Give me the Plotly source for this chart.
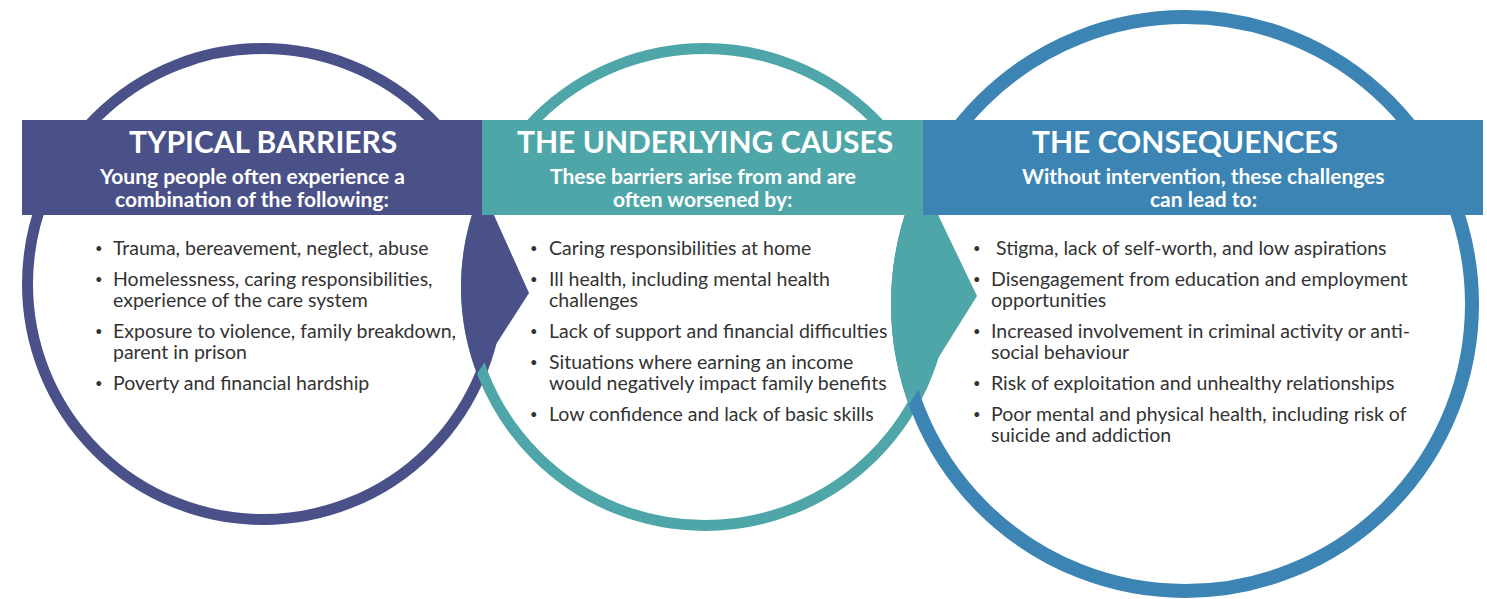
import math
import plotly.graph_objects as go

W, H = 1487, 599

# ---- content ----
titles = ["TYPICAL BARRIERS", "THE UNDERLYING CAUSES", "THE CONSEQUENCES"]
subtitles = [
    ["Young people often experience a", "combination of the following:"],
    ["These barriers arise from and are", "often worsened by:"],
    ["Without intervention, these challenges", "can lead to:"],
]
barriers = [
    ["Trauma, bereavement, neglect, abuse"],
    ["Homelessness, caring responsibilities,", "experience of the care system"],
    ["Exposure to violence, family breakdown,", "parent in prison"],
    ["Poverty and financial hardship"],
]
causes = [
    ["Caring responsibilities at home"],
    ["Ill health, including mental health", "challenges"],
    ["Lack of support and financial difficulties"],
    ["Situations where earning an income", "would negatively impact family benefits"],
    ["Low confidence and lack of basic skills"],
]
consequences = [
    [" Stigma, lack of self-worth, and low aspirations"],
    ["Disengagement from education and employment", "opportunities"],
    ["Increased involvement in criminal activity or anti-", "social behaviour"],
    ["Risk of exploitation and unhealthy relationships"],
    ["Poor mental and physical health, including risk of", "suicide and addiction"],
]
columns = [barriers, causes, consequences]
colors = ["#4A5189", "#4FA6A9", "#3B84B3"]

# ---- layout geometry (pixels) ----
circles = [  # cx, cy, outer radius, ring width
    (263, 284, 241, 11),
    (705, 287, 244, 11),
    (1185, 304, 294, 14),
]
banner_x = [22, 482, 923, 1483]
banner_y = (120, 215)
bullet_x = [99, 534, 977]
text_x = [111, 547, 989]
first_line_y = 247
line_gap = 21
item_gap = 31

TEXT_FONT = "Lato"
fig = go.Figure()
shapes = []
annotations = []

# rings
for (cx, cy, R, w), col in zip(circles, colors):
    r = R - w / 2
    shapes.append(dict(type="circle", xref="x", yref="y",
                       x0=cx - r, x1=cx + r, y0=cy - r, y1=cy + r,
                       line=dict(color=col, width=w), fillcolor="rgba(0,0,0,0)"))

# banners
for i, col in enumerate(colors):
    shapes.append(dict(type="rect", xref="x", yref="y",
                       x0=banner_x[i], x1=banner_x[i + 1],
                       y0=banner_y[0], y1=banner_y[1],
                       line=dict(width=0), fillcolor=col))


def pointer_path(src, dst, tip):
    """Pointer from circle `src` bulging into neighbour circle `dst`."""
    scx, scy, sR, _ = src
    dcx, dcy, dR, _ = dst
    ytop = banner_y[1]
    xr = scx + math.sqrt(sR ** 2 - (ytop - scy) ** 2)
    ybot = None
    for k in range(0, 400):
        y = ytop + k
        if abs(y - scy) >= sR or abs(y - dcy) >= dR:
            break
        xs = scx + math.sqrt(sR ** 2 - (y - scy) ** 2)
        xd = dcx - math.sqrt(dR ** 2 - (y - dcy) ** 2)
        if y > tip[1] and xs <= xd + 10:
            ybot = y
            break
    pts = [(xr, ytop), tip]
    n = 40
    for k in range(n + 1):
        y = ybot + (ytop - ybot) * k / n
        x = dcx - math.sqrt(dR ** 2 - (y - dcy) ** 2)
        pts.append((x, y))
    return "M " + " L ".join(f"{x:.2f},{y:.2f}" for x, y in pts) + " Z"


tips = [(529, 293), (977, 296)]
for i in range(2):
    shapes.append(dict(type="path", xref="x", yref="y",
                       path=pointer_path(circles[i], circles[i + 1], tips[i]),
                       line=dict(width=0), fillcolor=colors[i]))

# titles & subtitles
title_cx = [c[0] for c in circles]
for i in range(3):
    annotations.append(dict(x=title_cx[i], y=141, xref="x", yref="y",
                            text="<b>" + titles[i] + "</b>", showarrow=False,
                            xanchor="center", yanchor="middle",
                            font=dict(family=TEXT_FONT, size=30, color="white")))
    bc = (banner_x[i] + banner_x[i + 1]) / 2
    for j, line in enumerate(subtitles[i]):
        annotations.append(dict(x=bc, y=175 + 23 * j, xref="x", yref="y",
                                text="<b>" + line + "</b>", showarrow=False,
                                xanchor="center", yanchor="middle",
                                font=dict(family=TEXT_FONT, size=21, color="white")))

# bullet lists
for c, items in enumerate(columns):
    y = first_line_y
    for item in items:
        annotations.append(dict(x=bullet_x[c], y=y + 1, xref="x", yref="y",
                                text="•", showarrow=False, xanchor="center",
                                yanchor="middle",
                                font=dict(family=TEXT_FONT, size=13, color="#333333")))
        for j, line in enumerate(item):
            txt = ("&nbsp;" + line[1:]) if line.startswith(" ") else line
            annotations.append(dict(x=text_x[c], y=y, xref="x", yref="y",
                                    text=txt, showarrow=False, xanchor="left",
                                    yanchor="middle",
                                    font=dict(family=TEXT_FONT, size=19.5, color="#333333")))
            if j < len(item) - 1:
                y += line_gap
        y += item_gap

fig.update_layout(
    width=W, height=H, autosize=False, margin=dict(l=0, r=0, t=0, b=0, pad=0),
    paper_bgcolor="white", plot_bgcolor="white",
    xaxis=dict(range=[0, W], visible=False, fixedrange=True),
    yaxis=dict(range=[H, 0], visible=False, fixedrange=True),
    shapes=shapes, annotations=annotations, showlegend=False,
)
fig.write_html("out.html", config={"displayModeBar": False})

# remove default page margin so the figure sits at the window origin
with open("out.html", "r", encoding="utf-8") as f:
    html = f.read()
html = html.replace("<body>", '<body style="margin:0;padding:0;overflow:hidden">', 1)
with open("out.html", "w", encoding="utf-8") as f:
    f.write(html)
